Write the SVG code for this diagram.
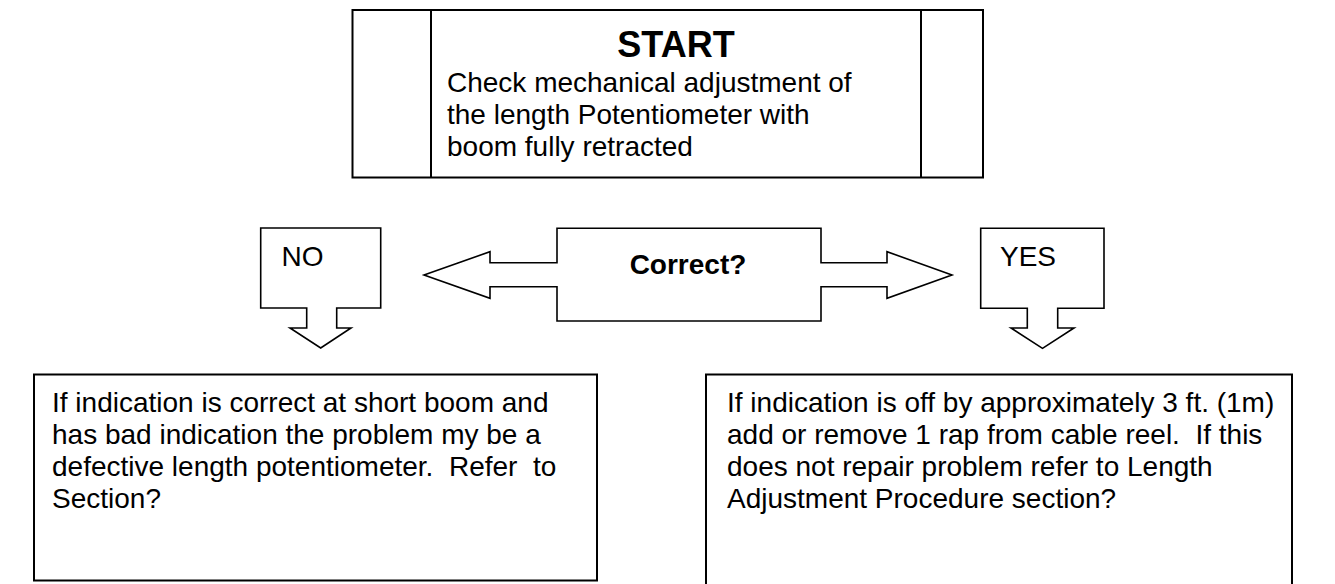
<svg xmlns="http://www.w3.org/2000/svg" width="1335" height="584" viewBox="0 0 1335 584">
<style>
.shape{fill:#fff;stroke:#000;stroke-width:1.6;stroke-linejoin:miter}
.box{fill:#fff;stroke:#000;stroke-width:2}
.t{font-family:"Liberation Sans",Arial,sans-serif;font-size:28px;fill:#000;white-space:pre}
.b{font-weight:bold}
</style>
<rect width="1335" height="584" fill="#fff"/>
<g id="start">
<rect class="box" x="352.5" y="10" width="630.5" height="167.5"/>
<line x1="431" y1="10" x2="431" y2="177.5" stroke="#000" stroke-width="2"/>
<line x1="921" y1="10" x2="921" y2="177.5" stroke="#000" stroke-width="2"/>
<text class="t b" x="676" y="56.5" text-anchor="middle" style="font-size:36px">START</text>
<text class="t" x="447" y="92">Check mechanical adjustment of</text>
<text class="t" x="447" y="124">the length Potentiometer with</text>
<text class="t" x="447" y="156">boom fully retracted</text>
</g>
<g id="connectors">
<polygon id="correct" class="shape" points="424,275 490,251.7 490,262.7 557,262.7 557,228.3 821,228.3 821,262.7 887,262.7 887,251.7 952,275 887,298.3 887,286.7 821,286.7 821,321 557,321 557,286.7 490,286.7 490,298.3"/>
<text class="t b" x="688" y="274" text-anchor="middle">Correct?</text>
</g>
<g id="no">
<polygon class="shape" points="260.7,228 380.7,228 380.7,308 336.7,308 336.7,328 351,328 320.7,348 290,328 306.7,328 306.7,308 260.7,308"/>
<text class="t" x="281.5" y="266">NO</text>
</g>
<g id="yes">
<polygon class="shape" points="980.7,228.3 1104,228.3 1104,308.3 1057.7,308.3 1057.7,328 1074,328 1042.5,348.3 1011,328 1027.3,328 1027.3,308.3 980.7,308.3"/>
<text class="t" x="1000" y="266">YES</text>
</g>
<g id="no-result">
<rect class="box" x="34" y="374.5" width="563" height="206"/>
<text class="t" x="52" y="412">If indication is correct at short boom and</text>
<text class="t" x="52" y="444">has bad indication the problem my be a</text>
<text class="t" x="52" y="476">defective length potentiometer.  Refer  to</text>
<text class="t" x="52" y="508">Section?</text>
</g>
<g id="yes-result">
<rect class="box" x="706" y="374.5" width="586" height="220"/>
<text class="t" x="727" y="412">If indication is off by approximately 3 ft. (1m)</text>
<text class="t" x="727" y="444">add or remove 1 rap from cable reel.  If this</text>
<text class="t" x="727" y="476">does not repair problem refer to Length</text>
<text class="t" x="727" y="508">Adjustment Procedure section?</text>
</g>
</svg>
